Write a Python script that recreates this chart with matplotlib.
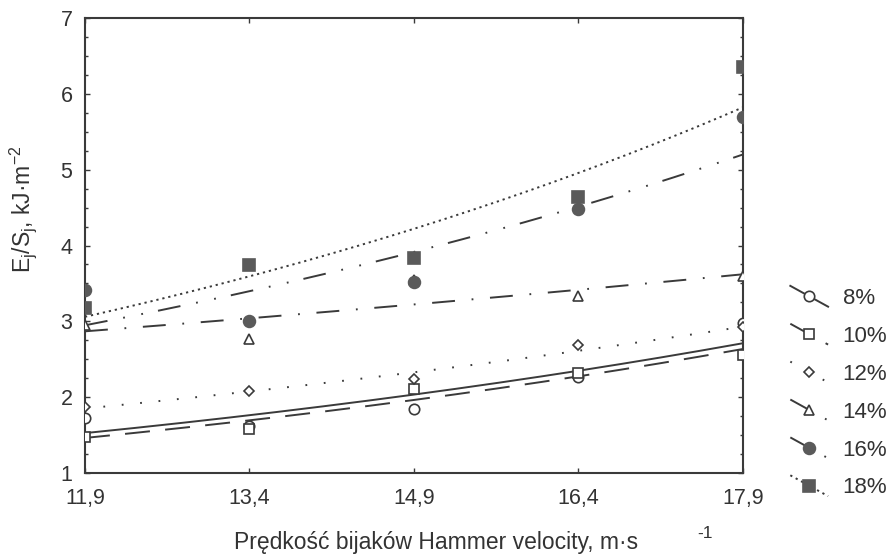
import numpy as np
import matplotlib
matplotlib.use("Agg")
import matplotlib.pyplot as plt
from matplotlib.lines import Line2D
from matplotlib.legend_handler import HandlerBase
from matplotlib.ticker import MultipleLocator

plt.rcParams['font.family'] = ['Liberation Sans', 'DejaVu Sans']
plt.rcParams['lines.scale_dashes'] = False

# hammer velocity, m/s
velocity = [11.9, 13.4, 14.9, 16.4, 17.9]
vel_labels = ['11,9', '13,4', '14,9', '16,4', '17,9']

# specific energy E/S, kJ/m2, one list per moisture content
e8 = [1.72, 1.62, 1.85, 2.27, 2.98]
e10 = [1.48, 1.58, 2.11, 2.32, 2.55]
e12 = [1.87, 2.08, 2.24, 2.69, 2.92]
e14 = [2.95, 2.77, 3.55, 3.33, 3.60]
e16 = [3.42, 3.00, 3.52, 4.48, 5.69]
e18 = [3.17, 3.74, 3.83, 4.64, 6.36]
series_labels = ['8%', '10%', '12%', '14%', '16%', '18%']

INK = '#3a3a3a'
FILL = '#5a5a5a'
TXT = '#333333'

styles = [
    dict(ls='-', marker='o', ms=7.5, mfc='white'),
    dict(ls=(0, (18, 11)), marker='s', ms=7.5, mfc='white'),
    dict(ls=(0, (1.3, 12)), marker='D', ms=5, mfc='white'),
    dict(ls=(0, (16.5, 12, 1.3, 12)), marker='^', ms=7, mfc='white'),
    dict(ls=(0, (16.5, 11.5, 1.3, 12, 1.3, 11)), marker='o', ms=8.5, mfc=FILL),
    dict(ls=(0, (1.6, 2.8)), marker='s', ms=8.5, mfc=FILL),
]


class SlantHandler(HandlerBase):
    # legend key: a short line falling to the right with the marker in the middle
    def create_artists(self, legend, orig_handle, xdescent, ydescent,
                       width, height, fontsize, trans):
        x0, x1 = -xdescent, width - xdescent
        yc = (height - ydescent) / 2
        y0, y1 = yc + 7.5, yc - 7.5
        line = Line2D([x0, x1], [y0, y1])
        self.update_prop(line, orig_handle, legend)
        line.set_marker('None')
        mk = Line2D([(x0 + x1) / 2], [(y0 + y1) / 2])
        self.update_prop(mk, orig_handle, legend)
        mk.set_linestyle('None')
        line.set_transform(trans)
        mk.set_transform(trans)
        return [line, mk]


fig = plt.figure(figsize=(8.88, 5.55), dpi=100)
ax = fig.add_axes([0.0957, 0.1477, 0.741, 0.8198])

x = np.array(velocity)
x_fit = np.linspace(velocity[0], velocity[-1], 200)
handles = []
for y, st, lab in zip([e8, e10, e12, e14, e16, e18], styles, series_labels):
    # exponential trend, as in the original figure
    coef = np.polyfit(x, np.log(y), 1)
    ax.plot(x_fit, np.exp(np.polyval(coef, x_fit)), color=INK, lw=1.4,
            ls=st['ls'], zorder=2)
    edge = INK if st['mfc'] == 'white' else FILL
    ax.plot(x, y, ls='none', marker=st['marker'], ms=st['ms'], mfc=st['mfc'],
            mec=edge, mew=1.2, zorder=3)
    handles.append(Line2D([], [], color=INK, lw=1.4, ls=st['ls'],
                          marker=st['marker'], ms=st['ms'], mfc=st['mfc'],
                          mec=edge, mew=1.2))

ax.set_xlim(velocity[0], velocity[-1])
ax.set_ylim(1, 7)
ax.set_xticks(velocity)
ax.set_xticklabels(vel_labels)
ax.set_yticks(range(1, 8))
ax.yaxis.set_minor_locator(MultipleLocator(0.25))
ax.tick_params(which='both', direction='in', top=True, right=True,
               color=INK, labelcolor=TXT, labelsize=15.5)
ax.tick_params(which='major', length=3.5, width=1)
ax.tick_params(which='minor', length=2, width=1)
ax.tick_params(axis='x', pad=11)
ax.tick_params(axis='y', pad=9)
for sp in ax.spines.values():
    sp.set_color(INK)
    sp.set_linewidth(1.5)

ax.set_ylabel(r'E$\mathregular{_j}$/S$\mathregular{_j}$, kJ·m$\mathregular{^{-2}}$',
              fontsize=16.5, color=TXT)
ax.yaxis.set_label_coords(-0.07, 0.58)
ax.set_xlabel('Prędkość bijaków Hammer velocity, m·s', fontsize=16.5, color=TXT)
ax.xaxis.set_label_coords(0.533, -0.128)
ax.text(0.942, -0.132, '-1', transform=ax.transAxes, fontsize=12.5,
        color=TXT, ha='center', va='center')

fig.legend(handles, series_labels, handler_map={Line2D: SlantHandler()},
           loc='upper left', bbox_to_anchor=(0.89, 0.481), frameon=False,
           borderpad=0, borderaxespad=0,
           fontsize=16, handlelength=1.7, handletextpad=0.65, labelspacing=0.76,
           labelcolor=TXT)

fig.savefig('out.png', dpi=100)
